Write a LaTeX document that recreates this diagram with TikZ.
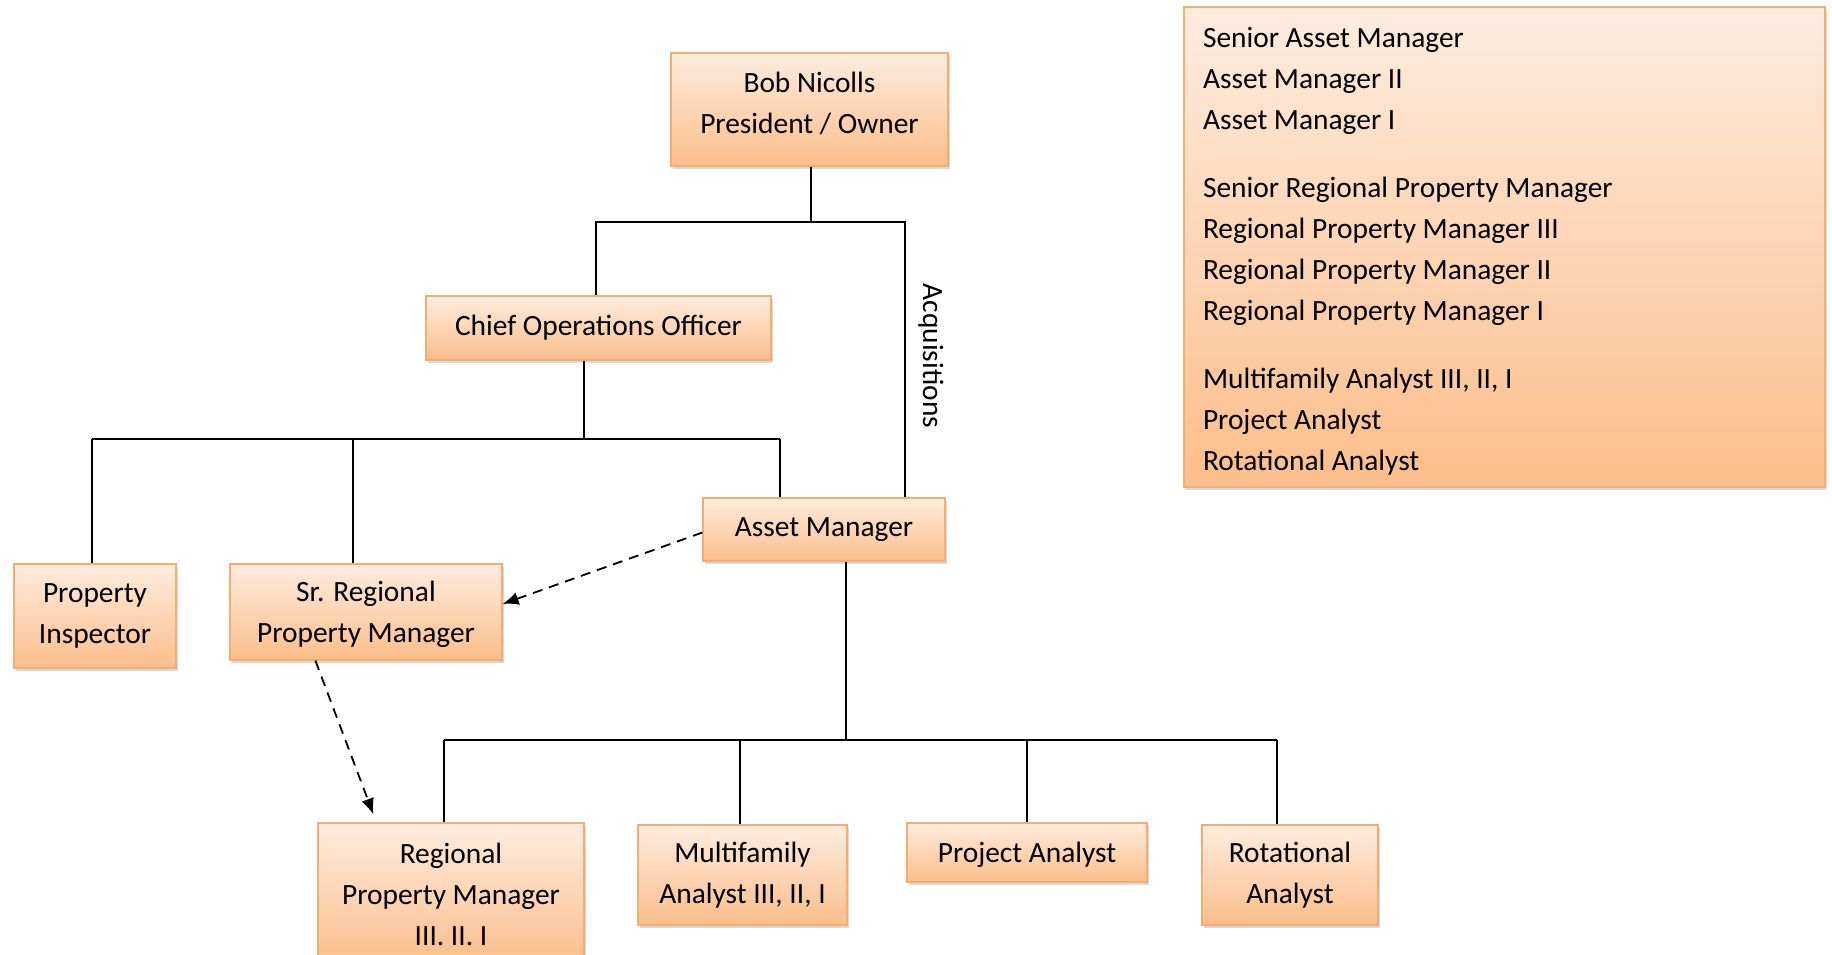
\documentclass[tikz,border=0pt]{standalone}
\usepackage{fontspec}
\setmainfont{Carlito}
\usetikzlibrary{arrows.meta,shadows}
\definecolor{boxtop}{HTML}{FEECDF}
\definecolor{boxbot}{HTML}{FBBE8B}
\definecolor{boxline}{HTML}{F5AC70}

\begin{document}
\begin{tikzpicture}[x=0.5pt,y=-0.5pt]
\tikzset{font=\fontsize{14.7pt}{20.5pt}\selectfont,
	align=center}
\tikzset{post/.style = {shape=rectangle,draw=boxline,line width=0.6pt,top color=boxtop,bottom color=boxbot,inner sep=0pt,
	drop shadow={shadow xshift=1.2pt,shadow yshift=-1.5pt,opacity=0.3}}}
\tikzset{link/.style = {draw=black,line width=0.9pt}}
\tikzset{heavy/.style = {draw=black,line width=1.3pt}}
\tikzset{dashlink/.style = {-{Latex[length=8pt,width=6.5pt]},dash pattern=on 5pt off 3.5pt,line width=0.9pt}}
\useasboundingbox (0,0) rectangle (1832,954);
% boxes
\node[post,minimum width=138.5pt,minimum height=56.5pt,text depth=6.4pt] (bob) at (809.5,109.5) {Bob Nicolls\\President / Owner};
\node[post,minimum width=172.5pt,minimum height=32pt] (coo) at (598.5,328) {Chief Operations Officer};
\node[post,minimum width=81pt,minimum height=52pt] (inspector) at (95,616) {Property\\Inspector};
\node[post,minimum width=136pt,minimum height=48pt,text depth=0pt] (srrpm) at (366,612) {Sr. Regional\\Property Manager};
\node[post,minimum width=121pt,minimum height=31.5pt] (assetmgr) at (824,529.5) {Asset Manager};
\node[post,minimum width=133pt,minimum height=71pt] (rpm) at (451,894) {Regional\\Property Manager\\III. II. I};
\node[post,minimum width=104.5pt,minimum height=50pt] (multi) at (742.5,875) {Multifamily\\Analyst III, II, I};
\node[post,minimum width=120pt,minimum height=29.5pt,text depth=0pt] (project) at (1027,852.5) {Project Analyst};
\node[post,minimum width=88pt,minimum height=50pt] (rotational) at (1290,875) {Rotational\\Analyst};
\node[post,minimum height=240pt,text width=301.5pt,inner xsep=9.5pt,align=flush left] (grades) at (1504.5,247)
	{\rule{0pt}{14pt}Senior Asset Manager\\Asset Manager II\\Asset Manager I\\[13.5pt]
	Senior Regional Property Manager\\Regional Property Manager III\\Regional Property Manager II\\Regional Property Manager I\\[13.5pt]
	Multifamily Analyst III, II, I\\Project Analyst\\Rotational Analyst};
\node[rotate=-90] (acq) at (931,356) {Acquisitions};

%lines
\coordinate (bobknot) at (811,222);
\coordinate (topl) at (596,222);
\coordinate (topr) at (905,222);
\coordinate (midl) at (92,439);
\coordinate (midr) at (780,439);
\coordinate (cooknot) at (584,439);
\coordinate (srknot) at (353,439);
\coordinate (lowl) at (444,740);
\coordinate (lowr) at (1277,740);
\coordinate (amknot) at (846,740);
\draw[heavy] (bob.south -| bobknot) -- (bobknot);
\draw[link] (topl |- coo.north) -- (topl) -- (topr) -- (topr |- assetmgr.north);
\draw[link] (coo.south -| cooknot) -- (cooknot);
\draw[link] (midl) -- (midr);
\draw[link] (midl) -- (midl |- inspector.north);
\draw[link] (srknot) -- (srknot |- srrpm.north);
\draw[link] (midr) -- (midr |- assetmgr.north);
\draw[heavy] (assetmgr.south -| amknot) -- (amknot);
\draw[heavy] (lowl) -- (lowr);
\draw[heavy] (lowl) -- (lowl |- rpm.north);
\draw[heavy] (multi.north -| 740,0) -- (740,740);
\draw[heavy] (project.north) -- (project |- lowl);
\draw[heavy] (lowr) -- (lowr |- rotational.north);
\draw[dashlink] ([yshift=-1.5pt]assetmgr.west) -- ([yshift=4pt]srrpm.east);
\draw[dashlink] ([xshift=43pt]srrpm.south west) -- ([xshift=28pt,yshift=4pt]rpm.north west);
\end{tikzpicture}
\end{document}
